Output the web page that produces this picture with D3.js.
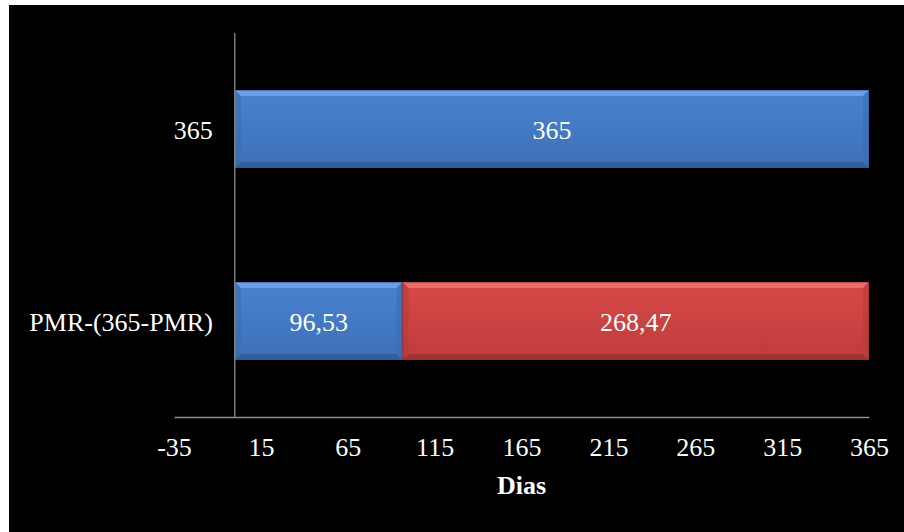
<!DOCTYPE html>
<html>
<head>
<meta charset="utf-8">
<script src="https://cdn.jsdelivr.net/npm/d3@7/dist/d3.min.js"></script>
<style>
  html, body { margin: 0; padding: 0; background: #ffffff; }
  svg { display: block; }
  svg text { font-family: "Liberation Serif", "DejaVu Serif", serif !important; fill: #ffffff; }
</style>
</head>
<body>
<svg id="chart" width="904" height="532"></svg>
<script>
// Categories (top to bottom) and stacked series values, in days
const categories = ["365", "PMR-(365-PMR)"];
const seriesNames = ["PMR", "Restante"];
const seriesA = [365, 96.53];
const seriesB = [0, 268.47];
const valueLabels = [["365", ""], ["96,53", "268,47"]];
const tickValues = [-35, 15, 65, 115, 165, 215, 265, 315, 365];
const axisTitle = "Dias";

const W = 904, H = 532;
const plot = { left: 174, right: 869, top: 33, bottom: 417 };
const FONT = '"Liberation Serif", "DejaVu Serif", serif';
const FS = 26;

const svg = d3.select("#chart");

// frame: black panel inside a thin white margin
svg.append("rect").attr("x", 9).attr("y", 5).attr("width", W - 9).attr("height", H - 5).attr("fill", "#000");

const x = d3.scaleLinear().domain([-35, 365]).range([plot.left, plot.right]);
const y = d3.scaleBand().domain(categories).range([plot.top, plot.bottom])
  .paddingInner(0.595).paddingOuter(0.2975);

const palettes = [
  { top: "#6c9fe6", bottom: "#2f5a96", side: "#3b6cb3", g1: "#4a82d0", g2: "#3c70b8" },
  { top: "#ec6e6c", bottom: "#9a302f", side: "#bb3b3a", g1: "#d64a48", g2: "#bf3c3b" }
];

const defs = svg.append("defs");
palettes.forEach((p, i) => {
  const g = defs.append("linearGradient").attr("id", "grad" + i)
    .attr("x1", 0).attr("y1", 0).attr("x2", 0).attr("y2", 1);
  g.append("stop").attr("offset", "0%").attr("stop-color", p.g1);
  g.append("stop").attr("offset", "100%").attr("stop-color", p.g2);
});

// stacked segments
const segments = [];
categories.forEach((c, i) => {
  const vals = [seriesA[i], seriesB[i]];
  let acc = 0;
  vals.forEach((v, s) => {
    if (v > 0) segments.push({ cat: c, s, x0: acc, x1: acc + v, label: valueLabels[i][s] });
    acc += v;
  });
});

const bev = 6;
const bars = svg.append("g");
segments.forEach(d => {
  const p = palettes[d.s];
  const x0 = x(d.x0), x1 = x(d.x1), y0 = y(d.cat), y1 = y0 + y.bandwidth();
  const g = bars.append("g");
  g.append("rect").attr("x", x0).attr("y", y0).attr("width", x1 - x0).attr("height", y1 - y0)
    .attr("fill", `url(#grad${d.s})`);
  // bevel edges
  g.append("polygon").attr("points", [[x0, y0], [x1, y0], [x1 - bev, y0 + bev], [x0 + bev, y0 + bev]].join(" "))
    .attr("fill", p.top);
  g.append("polygon").attr("points", [[x0, y1], [x1, y1], [x1 - bev, y1 - bev], [x0 + bev, y1 - bev]].join(" "))
    .attr("fill", p.bottom).attr("opacity", 0.75);
  g.append("polygon").attr("points", [[x0, y0], [x0 + bev, y0 + bev], [x0 + bev, y1 - bev], [x0, y1]].join(" "))
    .attr("fill", p.side).attr("opacity", 0.6);
  g.append("polygon").attr("points", [[x1, y0], [x1 - bev, y0 + bev], [x1 - bev, y1 - bev], [x1, y1]].join(" "))
    .attr("fill", p.side).attr("opacity", 0.6);
  g.append("rect").attr("x", x0 + 0.5).attr("y", y0 + 0.5).attr("width", x1 - x0 - 1).attr("height", y1 - y0 - 1)
    .attr("fill", "none").attr("stroke", p.bottom).attr("stroke-opacity", 0.6);
  if (d.label) {
    g.append("text").attr("x", (x0 + x1) / 2).attr("y", (y0 + y1) / 2 + 10)
      .attr("text-anchor", "middle").attr("font-size", FS).attr("font-family", FONT)
      .attr("fill", "#f2f2f2").text(d.label);
  }
});

// x axis
const xAxis = d3.axisBottom(x).tickValues(tickValues).tickSize(0).tickPadding(21)
  .tickFormat(d => String(d));
const gx = svg.append("g").attr("transform", `translate(0,${plot.bottom})`).call(xAxis)
  .attr("font-family", FONT);
gx.select(".domain").attr("stroke", "#8c8c8c").attr("stroke-width", 1.3);
gx.selectAll("text").attr("font-size", FS).attr("fill", "#fff");

// y axis at zero
const yAxis = d3.axisLeft(y).tickSize(0).tickPadding(22);
const gy = svg.append("g").attr("transform", `translate(${x(0)},0)`).call(yAxis)
  .attr("font-family", FONT);
gy.select(".domain").attr("stroke", "#8c8c8c").attr("stroke-width", 1.3)
  .attr("d", `M0,${plot.top}V${plot.bottom}`);
gy.selectAll("text").attr("font-size", FS).attr("fill", "#fff").attr("dy", "0.38em");

// axis title
svg.append("text").attr("x", (plot.left + plot.right) / 2).attr("y", 494)
  .attr("text-anchor", "middle").attr("font-size", FS).attr("font-weight", "bold")
  .attr("font-family", FONT).text(axisTitle);
</script>
</body>
</html>
